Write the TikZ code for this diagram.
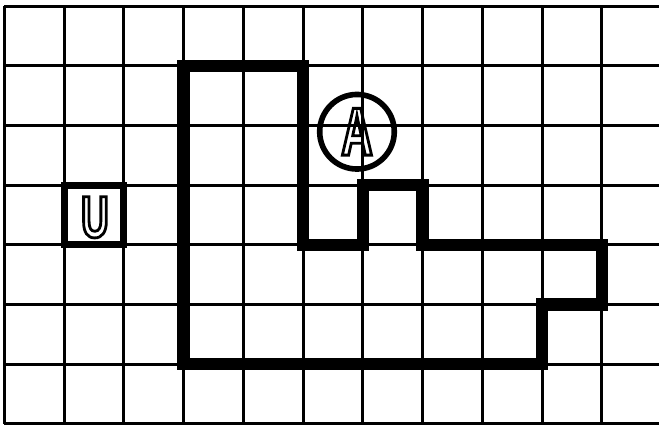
\documentclass[tikz,border=0pt]{standalone}
\usepackage{fontspec}
\newfontfamily\lettfont[FakeStretch=0.64]{Liberation Sans}
\newcommand\hollowtext[1]{\special{pdf:literal direct 1 Tr 1.4 w}#1\special{pdf:literal direct 0 Tr}}
\tikzset{
  gridline/.style={line width=1.5pt, black},
  wall/.style={line width=6.2pt, black, line join=miter},
  ubox/.style={draw, line width=3.5pt, minimum size=29.875pt, inner sep=0pt},
  acircle/.style={draw, circle, line width=2.8pt, minimum size=37.3pt, inner sep=0pt},
  letterA/.style={font=\lettfont\bfseries\fontsize{34}{34}\selectfont, inner sep=0pt},
  letterU/.style={font=\lettfont\bfseries\fontsize{29.5}{29.5}\selectfont, inner sep=0pt}
}
\begin{document}
\begin{tikzpicture}[x=29.875pt, y=-29.85pt]
% bounding box: 659 x 426 px, 1px = 0.5pt, grid origin at (4.3px, 6px)
\useasboundingbox (-0.072,-0.101) rectangle ++(11.03,7.137);
\fill[white] (-0.072,-0.101) rectangle ++(11.03,7.137);
% grid
\foreach \i in {0,...,10} \draw[gridline] (\i,0) -- (\i,7);
\foreach \j in {0,...,7} \draw[gridline] (0,\j) -- (10.96,\j);
% thick outline
\coordinate (p1) at (3,1);
\coordinate (p2) at (5,1);
\coordinate (p3) at (5,4);
\coordinate (p4) at (6,4);
\coordinate (p5) at (6,3);
\coordinate (p6) at (7,3);
\coordinate (p7) at (7,4);
\coordinate (p8) at (10,4);
\coordinate (p9) at (10,5);
\coordinate (p10) at (9,5);
\coordinate (p11) at (9,6);
\coordinate (p12) at (3,6);
\draw[wall] (p1) -- (p2) -- (p3) -- (p4) -- (p5) -- (p6) -- (p7) -- (p8) -- (p9) -- (p10) -- (p11) -- (p12) -- cycle;
% U box
\node[ubox] (ubox) at (1.5,3.5) {};
\node[letterU] (uletter) at (1.518,3.54) {\hollowtext{U}};
% A circle
\node[acircle] (acirc) at (5.903,2.106) {};
\node[letterA] (aletter) at (5.903,2.106) {\hollowtext{A}};
\end{tikzpicture}
\end{document}
